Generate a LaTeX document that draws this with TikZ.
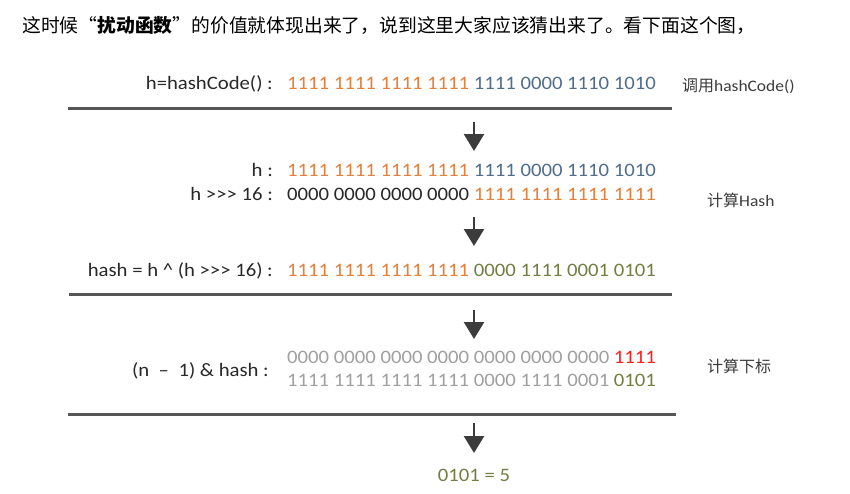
\documentclass[tikz,border=0pt]{standalone}
\usepackage{fontspec}
\setmainfont{Carlito}[FakeStretch=1.09]
\newfontfamily\cjk{Noto Sans CJK SC}
\usetikzlibrary{arrows.meta}
\definecolor{org}{RGB}{226,128,60}
\definecolor{blu}{RGB}{80,110,140}
\definecolor{olv}{RGB}{115,126,68}
\definecolor{gry}{RGB}{160,160,160}
\definecolor{rd}{RGB}{250,30,30}
\definecolor{lab}{RGB}{40,40,40}
\definecolor{notec}{RGB}{60,60,60}
\definecolor{rulec}{RGB}{85,85,85}
\definecolor{arrc}{RGB}{60,60,60}
\begin{document}
\begin{tikzpicture}[x=1pt,y=-1pt,
  txt/.style={inner sep=0pt, font=\fontsize{19}{22}\selectfont, text=lab},
  lbl/.style={txt, anchor=base east},
  bits/.style={txt, anchor=base west},
  note/.style={inner sep=0pt, anchor=west, font=\fontsize{16}{18}\selectfont, text=notec},
  rulel/.style={line width=3pt, draw=rulec},
  down/.style={line width=2.5pt, draw=arrc, -{Triangle[width=20pt,length=17pt]}}]
\useasboundingbox[fill=white] (0,0) rectangle (850,493);

\node[anchor=west, inner sep=0pt, text=black, font=\cjk\fontsize{18.8}{21}\selectfont] (hdr) at (22,25)
  {这时候“{\bfseries 扰动函数}”的价值就体现出来了，说到这里大家应该猜出来了。看下面这个图，};

% row 1
\node[lbl] (l1) at (273,89) {h=hashCode() :};
\node[bits] (b1) at (287,89) {\textcolor{org}{1111 1111 1111 1111} \textcolor{blu}{1111 0000 1110 1010}};
\node[note] (n1) at (682,86) {{\cjk 调用}hashCode()};
\coordinate (r1a) at (68,108); \coordinate (r1b) at (672,108);
\draw[rulel] (r1a) -- (r1b);

\coordinate (a1s) at (474,122); \coordinate (a1e) at (474,151);
\draw[down] (a1s) -- (a1e);

% row 2
\node[lbl] (l2) at (273,176) {h :};
\node[bits] (b2) at (287,176) {\textcolor{org}{1111 1111 1111 1111} \textcolor{blu}{1111 0000 1110 1010}};
\node[lbl] (l3) at (273,200) {h >{}>{}> 16 :};
\node[bits] (b3) at (287,200) {0000 0000 0000 0000 \textcolor{org}{1111 1111 1111 1111}};
\node[note] (n2) at (707,200) {{\cjk 计算}Hash};

\coordinate (a2s) at (474,217); \coordinate (a2e) at (474,246);
\draw[down] (a2s) -- (a2e);

\node[lbl] (l4) at (273,276) {hash = h \^{} (h >{}>{}> 16) :};
\node[bits] (b4) at (287,276) {\textcolor{org}{1111 1111 1111 1111} \textcolor{olv}{0000 1111 0001 0101}};
\coordinate (r2a) at (69,294); \coordinate (r2b) at (672,294);
\draw[rulel] (r2a) -- (r2b);

\coordinate (a3s) at (474,310); \coordinate (a3e) at (474,339);
\draw[down] (a3s) -- (a3e);

% row 3
\node[lbl] (l5) at (269,376) {(n\enspace–\enspace1) \& hash :};
\node[bits, text=gry] (b5) at (287,363) {0000 0000 0000 0000 0000 0000 0000 \textcolor{rd}{1111}};
\node[bits, text=gry] (b6) at (287,386) {1111 1111 1111 1111 0000 1111 0001 \textcolor{olv}{0101}};
\node[note] (n3) at (707,366) {{\cjk 计算下标}};
\coordinate (r3a) at (68,414); \coordinate (r3b) at (676,414);
\draw[rulel] (r3a) -- (r3b);

\coordinate (a4s) at (474,423); \coordinate (a4e) at (474,453);
\draw[down] (a4s) -- (a4e);

\node[txt, anchor=base, text=olv] (res) at (474,481) {0101 = 5};
\end{tikzpicture}
\end{document}
